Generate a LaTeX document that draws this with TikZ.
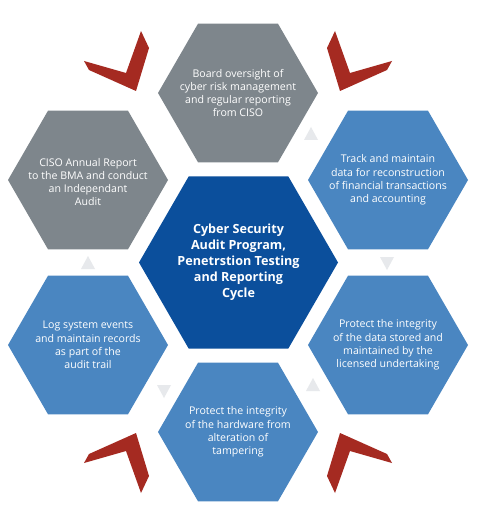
\documentclass[tikz,border=0pt]{standalone}
\usepackage{fontspec}
\setmainfont{Open Sans}
\usetikzlibrary{shapes.geometric}
\definecolor{hexgrey}{HTML}{7E868C}
\definecolor{hexblue}{HTML}{4A86C1}
\definecolor{hexdark}{HTML}{0B4F9C}
\definecolor{chevred}{HTML}{A52A21}
\definecolor{trigrey}{HTML}{E7E9EC}
\begin{document}
\begin{tikzpicture}[x=1pt,y=-1pt,
  hexo/.style={regular polygon, regular polygon sides=6, minimum size=160pt, inner sep=0pt, draw=none},
  hexc/.style={regular polygon, regular polygon sides=6, minimum size=199pt, inner sep=0pt, draw=none, fill=hexdark},
  otext/.style={text=white, align=center, inner sep=0pt, font=\fontsize{10.6}{13.3}\selectfont},
  ctext/.style={text=white, align=center, inner sep=0pt, font=\bfseries\fontsize{12.6}{16}\selectfont},
  chev/.style={fill=chevred, draw=none},
  tri/.style={fill=trigrey, draw=none}]
\useasboundingbox (0,0) rectangle (482,521);
\fill[white] (0,0) rectangle (482,521);

% chevrons
\fill[chev] (335,31) -- (350,73) -- (392,61) -- (387,70) -- (340,91) -- (327,48) -- cycle;
\fill[chev] (141,31) -- (126,73) -- (84,61) -- (89,70) -- (136,91) -- (149,48) -- cycle;
\fill[chev] (335,493) -- (350,451) -- (392,463) -- (387,454) -- (340,433) -- (327,476) -- cycle;
\fill[chev] (141,493) -- (126,451) -- (84,463) -- (89,454) -- (136,433) -- (149,476) -- cycle;

% hexagons
\node[hexo, fill=hexgrey] (hTop) at (238,93) {};
\node[hexo, fill=hexgrey] (hTL) at (88,180) {};
\node[hexo, fill=hexblue] (hTR) at (388,180) {};
\node[hexo, fill=hexblue] (hBL) at (88,345) {};
\node[hexo, fill=hexblue] (hBR) at (388,345) {};
\node[hexo, fill=hexblue] (hB) at (238,432) {};
\node[hexc] (hC) at (238.5,262.5) {};

% texts
\node[otext] (tTop) at (hTop) {Board oversight of\\cyber risk management\\and regular reporting\\from CISO};
\node[otext] (tTL) at (88,182) {CISO Annual Report\\to the BMA and conduct\\an Independant\\Audit};
\node[otext] (tTR) at (hTR) {Track and maintain\\data for reconstruction\\of financial transactions\\and accounting};
\node[otext] (tBL) at (hBL) {Log system events\\and maintain records\\as part of the\\audit trail};
\node[otext] (tBR) at (hBR) {Protect the integrity\\of the data stored and\\maintained by the\\licensed undertaking};
\node[otext] (tB) at (hB) {Protect the integrity\\of the hardware from\\alteration of\\tampering};
\node[ctext] (tC) at (hC) {Cyber Security\\Audit Program,\\Penetrstion Testing\\and Reporting\\Cycle};

% small triangles
\foreach \x/\y/\d in {311/134/1, 387/263/-1, 313/385/1, 164/391/-1, 88/263/1}
  \fill[tri] ({\x-7},{\y+6*\d}) -- (\x,{\y-7*\d}) -- ({\x+7},{\y+6*\d}) -- cycle;
\end{tikzpicture}
\end{document}
